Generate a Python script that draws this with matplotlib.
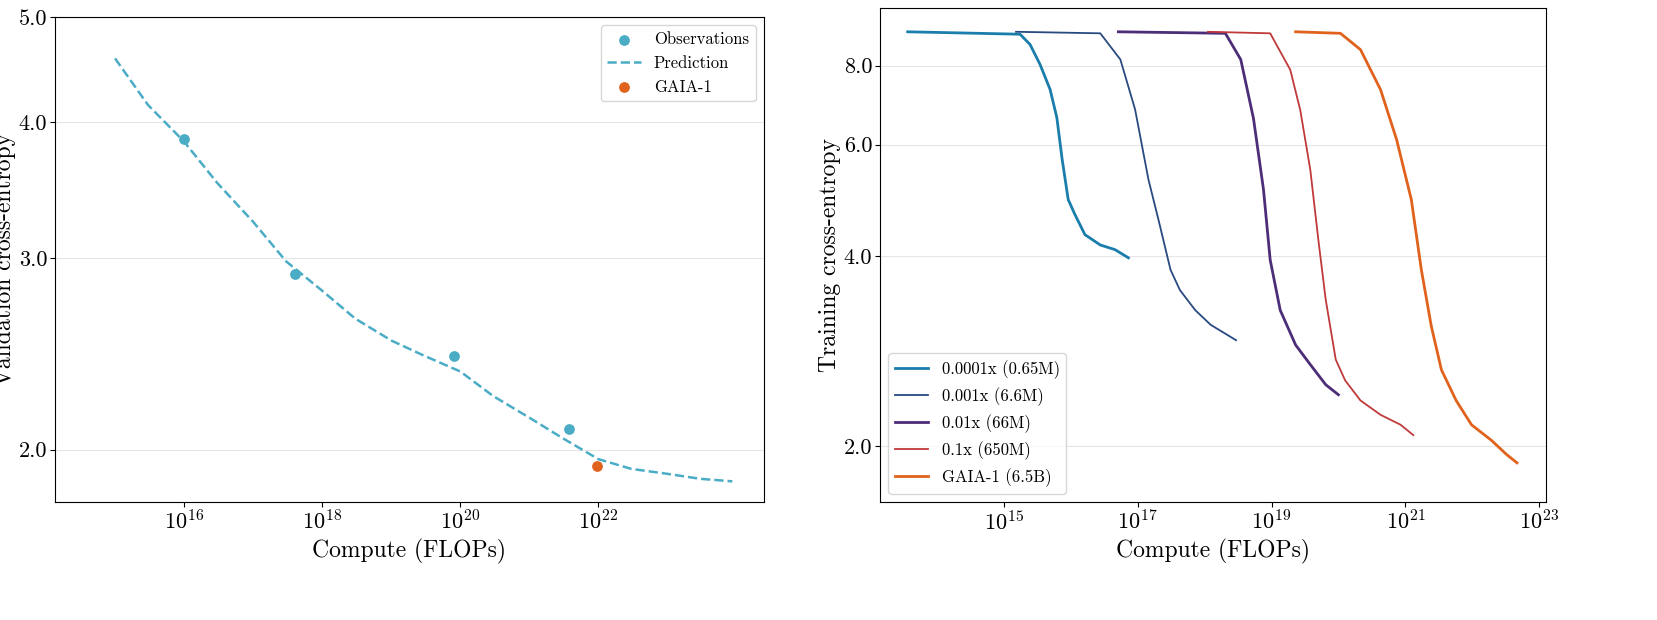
import matplotlib
matplotlib.use("Agg")
import matplotlib.pyplot as plt
import numpy as np
from matplotlib.ticker import FixedLocator, FormatStrFormatter, NullLocator

plt.rcParams["font.family"] = "serif"
plt.rcParams["font.serif"] = ["cmr10", "DejaVu Serif"]
plt.rcParams["mathtext.fontset"] = "cm"
plt.rcParams["axes.formatter.use_mathtext"] = True

# Left panel: scaling law
obs_flops = [1.0e16, 4.0e17, 8.2e19, 3.8e21]
obs_loss = [3.86, 2.90, 2.44, 2.09]
pred_flops = [1e15, 3e15, 1e16, 3e16, 1e17, 3e17, 1e18, 3e18, 1e19, 3e19,
              1e20, 3e20, 1e21, 3e21, 1e22, 3e22, 1e23, 3e23, 8.7e23]
pred_loss = [4.58, 4.15, 3.84, 3.52, 3.24, 2.98, 2.80, 2.64, 2.52, 2.44,
             2.36, 2.24, 2.14, 2.05, 1.96, 1.92, 1.90, 1.88, 1.87]
gaia_flops = [9.4e21]
gaia_loss = [1.93]

# Right panel: training curves (log10 compute, loss)
run_labels = ["0.0001x (0.65M)", "0.001x (6.6M)", "0.01x (66M)", "0.1x (650M)", "GAIA-1 (6.5B)"]
run_colors = ["#1a7dab", "#284a80", "#4c2d78", "#c0393b", "#e0621c"]
run_widths = [2.0, 1.3, 2.0, 1.3, 2.0]
run_logx = [
    [13.56, 15.24, 15.39, 15.54, 15.69, 15.79, 15.87, 15.96, 16.06, 16.21, 16.44, 16.66, 16.86],
    [15.18, 16.44, 16.74, 16.96, 17.16, 17.31, 17.49, 17.63, 17.86, 18.09, 18.47],
    [16.71, 18.31, 18.54, 18.73, 18.88, 18.98, 19.13, 19.36, 19.58, 19.81, 20.00],
    [18.05, 18.98, 19.28, 19.43, 19.58, 19.70, 19.81, 19.96, 20.10, 20.33, 20.63, 20.93, 21.12],
    [19.36, 20.03, 20.33, 20.63, 20.87, 21.09, 21.24, 21.39, 21.54, 21.76, 21.99, 22.29, 22.51, 22.67],
]
run_loss = [
    [9.05, 8.97, 8.64, 8.03, 7.33, 6.62, 5.68, 4.91, 4.65, 4.32, 4.16, 4.09, 3.97],
    [9.05, 9.0, 8.18, 6.82, 5.28, 4.56, 3.80, 3.53, 3.28, 3.11, 2.94],
    [9.05, 9.0, 8.18, 6.60, 5.09, 3.94, 3.28, 2.89, 2.69, 2.50, 2.41],
    [9.05, 9.0, 7.88, 6.80, 5.47, 4.24, 3.41, 2.74, 2.54, 2.36, 2.24, 2.16, 2.08],
    [9.05, 9.0, 8.48, 7.33, 6.11, 4.91, 3.80, 3.09, 2.64, 2.36, 2.16, 2.04, 1.94, 1.88],
]

fig = plt.figure(figsize=(16.58, 6.2), dpi=100)
ax1 = fig.add_axes([55 / 1658, 1 - 502 / 620, 709 / 1658, 485 / 620])
ax2 = fig.add_axes([880 / 1658, 1 - 502 / 620, 666 / 1658, 494 / 620])

ax1.plot(pred_flops, pred_loss, "--", color="#4bacc6", lw=1.8, label="Prediction", zorder=2)
ax1.scatter(obs_flops, obs_loss, color="#4bacc6", s=45, label="Observations", zorder=3)
ax1.scatter(gaia_flops, gaia_loss, color="#e0621c", s=45, label="GAIA-1", zorder=3)
ax1.set_xscale("log")
ax1.set_yscale("log")
ax1.set_xlim(1.35e14, 2.5e24)
ax1.set_ylim(1.79, 5.0)
ax1.xaxis.set_major_locator(FixedLocator([1e16, 1e18, 1e20, 1e22]))
ax1.xaxis.set_minor_locator(NullLocator())
ax1.yaxis.set_major_locator(FixedLocator([2.0, 3.0, 4.0, 5.0]))
ax1.yaxis.set_major_formatter(FormatStrFormatter("%.1f"))
ax1.yaxis.set_minor_locator(NullLocator())
ax1.grid(axis="y", color="#e6e6e6", lw=0.8)
ax1.set_axisbelow(True)
ax1.set_xlabel("Compute (FLOPs)", fontsize=17)
ax1.set_ylabel("Validation cross-entropy", fontsize=17, labelpad=2)
h, l = ax1.get_legend_handles_labels()
order = [l.index("Observations"), l.index("Prediction"), l.index("GAIA-1")]
ax1.legend([h[i] for i in order], [l[i] for i in order], loc="upper right", fontsize=12)

for xs, ys, lab, c, w in zip(run_logx, run_loss, run_labels, run_colors, run_widths):
    ax2.plot(10 ** np.array(xs), ys, color=c, lw=w, label=lab)
ax2.set_xscale("log")
ax2.set_yscale("log")
ax2.set_xlim(1.4e13, 1.27e23)
ax2.set_ylim(1.63, 9.87)
ax2.xaxis.set_major_locator(FixedLocator([1e15, 1e17, 1e19, 1e21, 1e23]))
ax2.xaxis.set_minor_locator(NullLocator())
ax2.yaxis.set_major_locator(FixedLocator([2.0, 4.0, 6.0, 8.0]))
ax2.yaxis.set_major_formatter(FormatStrFormatter("%.1f"))
ax2.yaxis.set_minor_locator(NullLocator())
ax2.grid(axis="y", color="#e6e6e6", lw=0.8)
ax2.set_axisbelow(True)
ax2.set_xlabel("Compute (FLOPs)", fontsize=17)
ax2.set_ylabel("Training cross-entropy", fontsize=17, labelpad=2)
ax2.legend(loc="lower left", fontsize=12)

for ax in (ax1, ax2):
    ax.tick_params(labelsize=16, pad=2)

fig.savefig("out.png", dpi=100)
